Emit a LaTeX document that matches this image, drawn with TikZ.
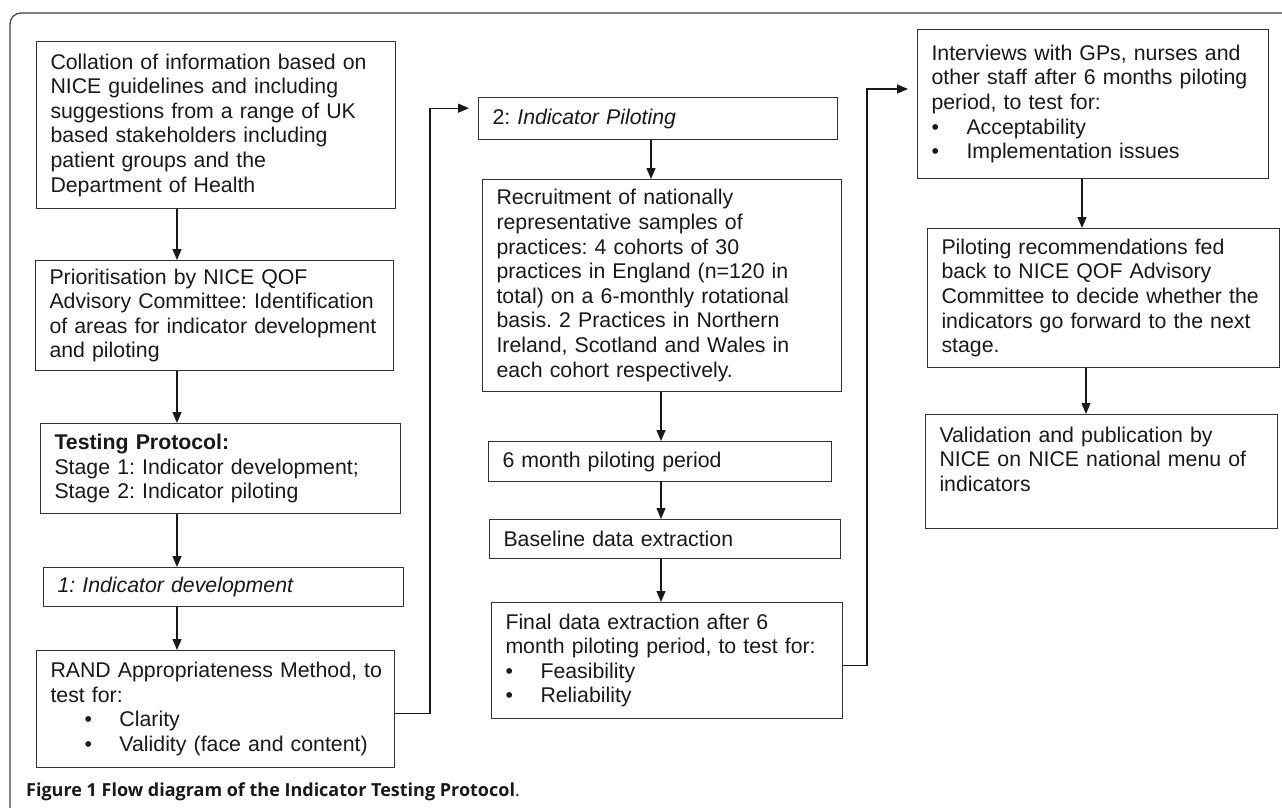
\documentclass[tikz,border=0pt]{standalone}
\usepackage{fontspec}
\setmainfont{Liberation Sans}
\newfontfamily\capfont{Open Sans}
\usetikzlibrary{positioning, arrows.meta, calc}

% bullet line: offset of the bullet, then item text
\newcommand\bitem[2]{\hspace*{#1}\makebox[35pt][l]{\textbullet}#2}

\begin{document}
\frenchspacing
\begin{tikzpicture}[
  x=1pt, y=-1pt,
  font=\fontsize{21.3}{24.6}\selectfont,
  stage/.style={draw=black!80, line width=1pt, anchor=north west, align=left,
    inner xsep=14pt, inner ysep=0pt, text=black!90},
  flow/.style={-{Triangle[width=9pt,length=11pt]}, line width=1.3pt, draw=black!90},
  frame/.style={draw=black!75, line width=1.2pt, rounded corners=11pt}
]
\useasboundingbox (0,0) rectangle (1282,808);
\draw[frame] (10,808) -- (10,13) -- (1282,13);

% first column: development
\node[stage, text width=331pt, minimum height=167pt] (collate) at (36,41)
  {Collation of information based on\\
   NICE guidelines and including\\
   suggestions from a range of UK\\
   based stakeholders including\\
   patient groups and the\\
   Department of Health};
\node[stage, text width=330pt, minimum height=110pt] (prior) at (35,260)
  {Prioritisation by NICE QOF\\
   Advisory Committee: Identification\\
   of areas for indicator development\\
   and piloting};
\node[stage, text width=332pt, minimum height=90pt] (protocol) at (40,423)
  {\textbf{Testing Protocol:}\\
   Stage 1: Indicator development;\\
   Stage 2: Indicator piloting};
\node[stage, text width=332pt, minimum height=39pt] (develop) at (43,567)
  {\textit{1: Indicator development}};
\node[stage, text width=330pt, minimum height=117pt] (rand) at (36,650)
  {\mbox{RAND Appropriateness Method, to}\\
   test for:\\
   \bitem{34pt}{Clarity}\\
   \bitem{34pt}{Validity (face and content)}};

% second column: piloting
\node[stage, text width=331pt, minimum height=42pt] (pilot) at (478,97)
  {2: \textit{Indicator Piloting}};
\node[stage, text width=331pt, minimum height=212pt] (recruit) at (482,179)
  {Recruitment of nationally\\
   representative samples of\\
   practices: 4 cohorts of 30\\
   practices in England (n=120 in\\
   total) on a 6-monthly rotational\\
   basis. 2 Practices in Northern\\
   Ireland, Scotland and Wales in\\
   each cohort respectively.};
\node[stage, text width=315pt, minimum height=40pt] (period) at (488,441)
  {6 month piloting period};
\node[stage, text width=323pt, minimum height=39pt] (baseline) at (489,519)
  {Baseline data extraction};
\node[stage, text width=323pt, minimum height=116pt] (final) at (491,602)
  {Final data extraction after 6\\
   month piloting period, to test for:\\
   \bitem{0pt}{Feasibility}\\
   \bitem{0pt}{Reliability}};

% third column: feedback
\node[stage, text width=323pt, minimum height=149pt] (interview) at (917,29)
  {Interviews with GPs, nurses and\\
   other staff after 6 months piloting\\
   period, to test for:\\
   \bitem{0pt}{Acceptability}\\
   \bitem{0pt}{Implementation issues}};
\node[stage, text width=324pt, minimum height=139pt] (feedback) at (927,228)
  {Piloting recommendations fed\\
   back to NICE QOF Advisory\\
   Committee to decide whether the\\
   indicators go forward to the next\\
   stage.};
\node[stage, text width=324pt, minimum height=114pt] (publish) at (925,414)
  {Validation and publication by\\
   NICE on NICE national menu of\\
   indicators\\
   \mbox{}};

\node[anchor=west, inner sep=0pt, font=\capfont\fontsize{18}{21}\selectfont, text=black!90]
  (caption) at (26,792) {\textbf{Figure 1 Flow diagram of the Indicator Testing Protocol}.};

% arrow columns and risers
\coordinate (colA) at (177,0);
\coordinate (colB) at (651,0);
\coordinate (colC) at (661,0);
\coordinate (colD) at (1082,0);
\coordinate (colE) at (1086,0);
\coordinate (riserA) at (430,0);
\coordinate (riserB) at (867,0);

\draw[flow] (collate.south -| colA) -- (prior.north -| colA);
\draw[flow] (prior.south -| colA) -- (protocol.north -| colA);
\draw[flow] (protocol.south -| colA) -- (develop.north -| colA);
\draw[flow] (develop.south -| colA) -- (rand.north -| colA);

\draw[flow] (pilot.south -| colB) -- (recruit.north -| colB);
\draw[flow] (recruit.south -| colC) -- (period.north -| colC);
\draw[flow] (period.south -| colC) -- (baseline.north -| colC);
\draw[flow] (baseline.south -| colC) -- (final.north -| colC);

\draw[flow] (interview.south -| colD) -- (feedback.north -| colD);
\draw[flow] (feedback.south -| colE) -- (publish.north -| colE);

% stage hand-overs
\coordinate (randout) at ($(rand.north east)!0.54!(rand.south east)$);
\coordinate (pilotin) at ($(pilot.north west)!0.26!(pilot.south west)$);
\coordinate (finalout) at ($(final.north east)!0.54!(final.south east)$);
\coordinate (interin) at ($(interview.north west)!0.40!(interview.south west)$);
\draw[flow, shorten >=9pt] (randout) -- (randout -| riserA) |- (pilotin);
\draw[flow, shorten >=9pt] (finalout) -- (finalout -| riserB) |- (interin);
\end{tikzpicture}
\end{document}
